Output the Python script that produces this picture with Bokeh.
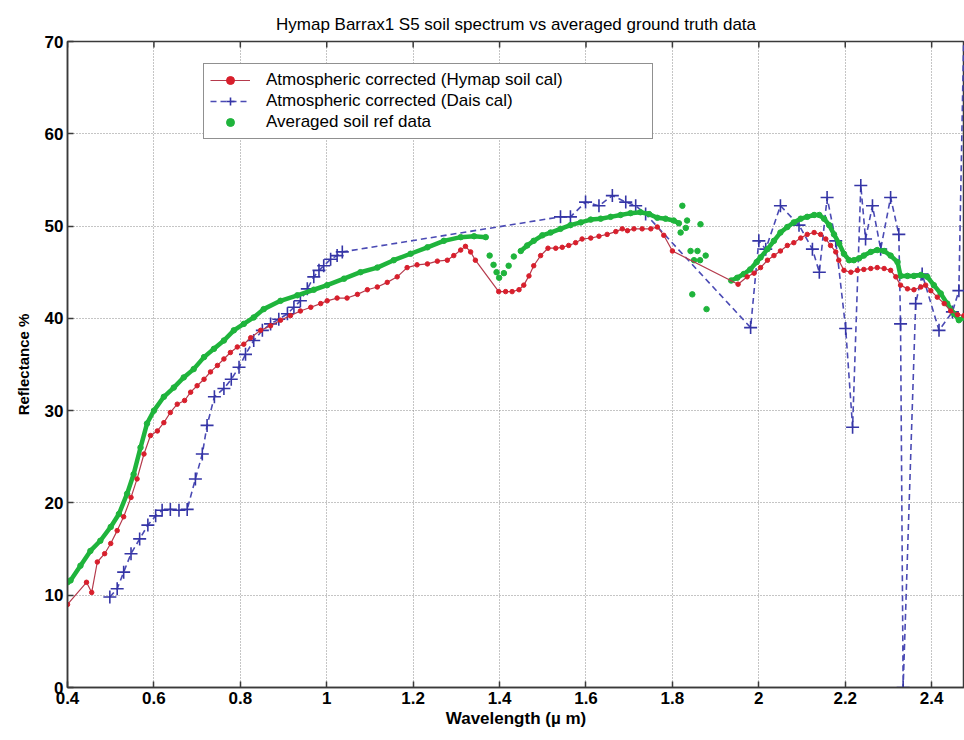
from bokeh.plotting import figure
from bokeh.models import (Range1d, FixedTicker, CustomJSTickFormatter,
                          Legend, LegendItem)
from bokeh.embed import file_html
from bokeh.resources import INLINE

# ---------------- data ----------------
x_ticks = [0.4, 0.6, 0.8, 1.0, 1.2, 1.4, 1.6, 1.8, 2.0, 2.2, 2.4]
y_ticks = [0, 10, 20, 30, 40, 50, 60, 70]

# Atmospheric corrected (Hymap soil cal)
hymap_wl = [0.400, 0.444, 0.456, 0.469, 0.486, 0.500, 0.515, 0.530, 0.547, 0.561,
            0.577, 0.592, 0.608, 0.623, 0.638, 0.654, 0.671, 0.685, 0.700, 0.716,
            0.731, 0.747, 0.762, 0.777, 0.793, 0.808, 0.824, 0.847, 0.870, 0.893,
            0.916, 0.939, 0.963, 0.986, 1.001, 1.024, 1.047, 1.071, 1.094, 1.117,
            1.140, 1.163, 1.186, 1.209, 1.233, 1.256, 1.279, 1.294, 1.310, 1.321,
            1.333, 1.344, 1.398, 1.414, 1.429, 1.445, 1.456, 1.468, 1.479, 1.495,
            1.512, 1.530, 1.545, 1.560, 1.576, 1.591, 1.611, 1.630, 1.649, 1.669,
            1.684, 1.696, 1.711, 1.730, 1.750, 1.765, 1.780, 1.800, 1.952, 1.973,
            1.989, 2.004, 2.020, 2.035, 2.050, 2.066, 2.081, 2.097, 2.112, 2.128,
            2.143, 2.155, 2.166, 2.178, 2.185, 2.197, 2.213, 2.228, 2.243, 2.259,
            2.274, 2.290, 2.305, 2.317, 2.328, 2.344, 2.359, 2.375, 2.386, 2.398,
            2.413, 2.429, 2.444, 2.460, 2.475]
hymap_refl = [9.0, 11.4, 10.3, 13.6, 14.5, 15.6, 17.0, 18.5, 20.6, 22.6,
              25.3, 27.3, 27.8, 28.7, 29.8, 30.7, 31.1, 32.0, 32.7, 33.4,
              34.2, 34.9, 35.6, 36.3, 36.9, 37.2, 37.9, 38.7, 39.2, 39.8,
              40.3, 40.8, 41.2, 41.6, 41.9, 42.2, 42.2, 42.6, 43.1, 43.4,
              43.9, 44.5, 45.5, 45.8, 45.9, 46.2, 46.3, 46.8, 47.4, 47.8,
              47.2, 46.3, 42.9, 42.9, 42.9, 43.1, 43.6, 44.6, 45.7, 46.8,
              47.6, 47.6, 47.7, 47.9, 48.2, 48.6, 48.7, 48.9, 49.1, 49.4,
              49.7, 49.5, 49.7, 49.7, 49.7, 49.9, 49.0, 47.3, 43.7, 44.5,
              44.9, 45.5, 46.3, 46.8, 47.3, 47.9, 48.2, 48.7, 49.1, 49.3,
              49.1, 48.6, 47.9, 47.2, 46.3, 45.2, 45.0, 45.2, 45.3, 45.4,
              45.5, 45.4, 45.2, 44.5, 43.6, 43.2, 43.1, 43.4, 43.6, 43.0,
              42.3, 41.6, 40.8, 40.4, 40.3]

# Atmospheric corrected (Dais cal)
dais_wl = [0.498, 0.515, 0.530, 0.547, 0.567, 0.586, 0.604, 0.619, 0.638, 0.658,
           0.677, 0.696, 0.712, 0.723, 0.740, 0.762, 0.779, 0.797, 0.812, 0.831,
           0.851, 0.870, 0.889, 0.909, 0.924, 0.939, 0.955, 0.970, 0.982, 0.993,
           1.009, 1.024, 1.036, 1.541, 1.564, 1.599, 1.630, 1.661, 1.692, 1.715,
           1.738, 1.981, 2.000, 2.016, 2.050, 2.093, 2.124, 2.140, 2.158, 2.178,
           2.201, 2.217, 2.236, 2.247, 2.263, 2.282, 2.305, 2.324, 2.328, 2.334,
           2.363, 2.378, 2.417, 2.448, 2.463, 2.476]
dais_refl = [9.8, 10.7, 12.5, 14.5, 16.1, 17.6, 18.6, 19.2, 19.3, 19.2,
             19.3, 22.6, 25.3, 28.4, 31.5, 32.4, 33.4, 34.7, 36.1, 37.6,
             38.7, 39.4, 39.9, 40.5, 41.2, 41.9, 43.2, 44.5, 45.2, 45.7,
             46.4, 46.8, 47.2, 51.0, 51.0, 52.6, 52.2, 53.3, 52.6, 52.2,
             51.3, 39.0, 48.4, 47.5, 52.2, 50.1, 47.5, 45.0, 53.1, 48.4,
             38.9, 28.2, 54.4, 48.6, 52.2, 47.5, 53.1, 49.1, 39.4, 0.0,
             41.6, 44.8, 38.7, 40.7, 43.0, 75.0]

# Averaged soil ref data (continuous parts and isolated points)
ref_wl_a = [0.400, 0.407, 0.430, 0.453, 0.476, 0.500, 0.519, 0.538, 0.553, 0.569,
            0.584, 0.600, 0.623, 0.646, 0.669, 0.692, 0.716, 0.739, 0.762, 0.785,
            0.808, 0.831, 0.854, 0.893, 0.932, 0.970, 1.001, 1.040, 1.078, 1.117,
            1.155, 1.194, 1.233, 1.271, 1.310, 1.341, 1.368]
ref_refl_a = [11.4, 11.6, 13.2, 14.8, 15.9, 17.4, 18.8, 21.0, 23.1, 26.0,
              28.6, 30.0, 31.5, 32.5, 33.6, 34.5, 35.8, 36.7, 37.6, 38.7,
              39.4, 40.1, 41.0, 41.9, 42.5, 43.1, 43.6, 44.3, 45.0, 45.5,
              46.3, 47.0, 47.7, 48.4, 48.8, 48.9, 48.8]
ref_wl_dip = [1.377, 1.386, 1.393, 1.399, 1.410, 1.421, 1.433]
ref_refl_dip = [46.8, 45.8, 45.0, 44.4, 44.9, 45.7, 46.7]
ref_wl_b = [1.449, 1.464, 1.479, 1.499, 1.518, 1.541, 1.564, 1.588, 1.611, 1.634,
            1.657, 1.680, 1.703, 1.726, 1.746, 1.765, 1.784, 1.803, 1.815]
ref_refl_b = [47.3, 47.9, 48.4, 49.0, 49.3, 49.7, 50.1, 50.4, 50.7, 50.8,
              51.0, 51.2, 51.4, 51.5, 51.3, 50.9, 50.8, 50.6, 50.3]
ref_wl_scatter = [1.819, 1.823, 1.831, 1.834, 1.842, 1.846, 1.850, 1.858, 1.864,
                  1.865, 1.877, 1.879]
ref_refl_scatter = [49.3, 52.2, 49.8, 50.6, 47.3, 42.6, 46.3, 47.3, 46.3,
                    50.2, 46.8, 41.0]
ref_wl_c = [1.936, 1.950, 1.965, 1.980, 1.995, 2.004, 2.020, 2.035, 2.050, 2.066,
            2.081, 2.097, 2.112, 2.128, 2.140, 2.151, 2.163, 2.174, 2.186, 2.197,
            2.209, 2.220, 2.232, 2.243, 2.259, 2.274, 2.290, 2.305, 2.321, 2.328,
            2.344, 2.359, 2.375, 2.390, 2.405, 2.421, 2.436, 2.452, 2.463, 2.475]
ref_refl_c = [44.1, 44.4, 44.8, 45.3, 46.1, 46.6, 47.5, 48.4, 49.3, 49.9,
              50.4, 50.8, 51.0, 51.2, 51.2, 50.8, 50.1, 49.1, 48.1, 47.0,
              46.3, 46.3, 46.5, 46.8, 47.2, 47.4, 47.3, 46.8, 46.1, 44.6,
              44.6, 44.6, 44.7, 44.5, 43.6, 42.7, 41.6, 40.5, 39.8, 40.1]

# ---------------- styles ----------------
FONT = "Liberation Sans"
RED = "#d81f2c"
RED_LINE = "#b53a4c"
BLUE = "#3535a6"
BLUE_LINE = "#4a4ab4"
GREEN = "#1fb43c"
AXIS = "#3a3a3a"
Y_MIN, Y_MAX = 0, 70
FRAME_H = 646  # px, used only to size the top tick marks

p = figure(width=964, height=740, output_backend="svg", toolbar_location=None,
           x_range=Range1d(0.4, 2.476), y_range=Range1d(Y_MIN, Y_MAX),
           min_border_left=67, min_border_right=0, min_border_top=41,
           min_border_bottom=53,
           title="Hymap Barrax1 S5 soil spectrum vs averaged ground truth data")
p.background_fill_color = "white"
p.border_fill_color = "white"
p.outline_line_color = AXIS
p.outline_line_width = 1.5

p.title.align = "center"
p.title.text_font = FONT
p.title.text_font_size = "17px"
p.title.text_font_style = "normal"
p.title.text_color = "black"
p.title.standoff = 16

xt = FixedTicker(ticks=x_ticks)
yt = FixedTicker(ticks=y_ticks)
fmt = CustomJSTickFormatter(code="return (Math.round(tick*10)/10).toString();")

p.xaxis.ticker = xt
p.xaxis.formatter = fmt
p.yaxis.ticker = yt
for ax in (p.xaxis[0], p.yaxis[0]):
    ax.major_tick_in = 6
    ax.major_tick_out = 0
    ax.minor_tick_line_color = None
    ax.major_tick_line_color = AXIS
    ax.major_tick_line_width = 1.5
    ax.axis_line_color = AXIS
    ax.axis_line_width = 1.5
    ax.major_label_text_font = FONT
    ax.major_label_text_font_size = "17px"
    ax.major_label_text_font_style = "bold"
    ax.major_label_text_color = "black"
    ax.axis_label_text_font = FONT
    ax.axis_label_text_font_style = "bold"
    ax.axis_label_text_color = "black"
    ax.major_label_standoff = 4
p.xaxis.axis_label = "Wavelength (\u00b5 m)"
p.xaxis.axis_label_text_font_size = "17px"
p.xaxis.axis_label_standoff = 2
p.yaxis.axis_label = "Reflectance %"
p.yaxis.axis_label_text_font_size = "15px"
p.yaxis.axis_label_standoff = 10

p.xgrid.ticker = xt
p.ygrid.ticker = yt
p.grid.grid_line_color = "#8a8a8a"
p.grid.grid_line_dash = "1 2"
p.grid.grid_line_width = 1

# inward tick marks along the top edge of the frame (MATLAB box style)
tick_len = (Y_MAX - Y_MIN) * 6 / FRAME_H
p.segment(x0=x_ticks, y0=[Y_MAX] * len(x_ticks), x1=x_ticks,
          y1=[Y_MAX - tick_len] * len(x_ticks), line_color=AXIS, line_width=1.5)

# ---------------- glyphs ----------------
blue_line = p.line(dais_wl, dais_refl, line_color=BLUE_LINE, line_width=1.6,
                   line_dash="6 4")
blue_pts = p.scatter(dais_wl, dais_refl, marker="cross", size=13,
                     line_color=BLUE, line_width=1.6)

for wl, rf in ((ref_wl_a, ref_refl_a), (ref_wl_b, ref_refl_b), (ref_wl_c, ref_refl_c)):
    p.line(wl, rf, line_color=GREEN, line_width=4.5)
green_pts = None
for wl, rf in ((ref_wl_a, ref_refl_a), (ref_wl_dip, ref_refl_dip),
               (ref_wl_b, ref_refl_b), (ref_wl_scatter, ref_refl_scatter),
               (ref_wl_c, ref_refl_c)):
    r = p.scatter(wl, rf, marker="circle", size=5.5, fill_color=GREEN,
                  line_color=GREEN)
    if green_pts is None:
        green_pts = r

red_line = p.line(hymap_wl, hymap_refl, line_color=RED_LINE, line_width=1.2)
red_pts = p.scatter(hymap_wl, hymap_refl, marker="circle", size=4.5,
                    fill_color=RED, line_color=RED)

legend = Legend(items=[
    LegendItem(label="Atmospheric corrected (Hymap soil cal)", renderers=[red_line, red_pts]),
    LegendItem(label="Atmospheric corrected (Dais cal)", renderers=[blue_line, blue_pts]),
    LegendItem(label="Averaged soil ref data", renderers=[green_pts]),
], location=(136, 548))
legend.label_text_font = FONT
legend.label_text_font_size = "17px"
legend.label_text_color = "black"
legend.glyph_width = 40
legend.glyph_height = 20
legend.label_height = 20
legend.label_width = 380
legend.label_standoff = 16
legend.spacing = 1
legend.padding = 6
legend.margin = 0
legend.border_line_color = "#222222"
legend.border_line_width = 1.5
legend.background_fill_color = "white"
legend.background_fill_alpha = 1
p.add_layout(legend)

open("out.html", "w").write(file_html(p, INLINE))
